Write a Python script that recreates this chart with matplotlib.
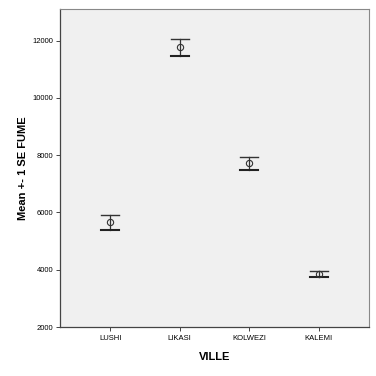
import matplotlib
matplotlib.use("Agg")
import matplotlib.pyplot as plt
import numpy as np

plt.rcParams['font.family'] = ['Liberation Sans', 'DejaVu Sans']

villes = ["LUSHI", "LIKASI", "KOLWEZI", "KALEMI"]
means = [5650, 11765, 7710, 3850]
upper = [5905, 12055, 7950, 3940]
lower = [5395, 11475, 7465, 3745]

fig = plt.figure(figsize=(3.76, 3.76), dpi=100)
ax = fig.add_axes([60/376, 1 - 327/376, 309/376, 318/376])
ax.set_facecolor('#f0f0f0')

x = np.arange(1, len(villes) + 1)
capw = 0.13
for xi, m, up, lo in zip(x, means, upper, lower):
    ax.plot([xi, xi], [lo, up], color='#333333', lw=0.9)
    ax.plot([xi - capw, xi + capw], [up, up], color='#333333', lw=1.0)
    ax.plot([xi - capw, xi + capw], [lo, lo], color='#222222', lw=1.5)
ax.plot(x, means, 'o', mfc='none', mec='#333333', ms=4.5, mew=0.8, ls='none')

ax.set_xlim(0.28, 4.72)
ax.set_ylim(2000, 13100)
ax.set_yticks([2000, 4000, 6000, 8000, 10000, 12000])
ax.set_xticks(x)
ax.set_xticklabels(villes)
ax.tick_params(labelsize=5.5, length=3, width=0.7, color='#444444', pad=2)
ax.tick_params(axis='x', pad=3)

for s in ['top', 'right']:
    ax.spines[s].set_color('#888888')
    ax.spines[s].set_linewidth(0.8)
for s in ['left', 'bottom']:
    ax.spines[s].set_color('#444444')
    ax.spines[s].set_linewidth(0.9)

ax.set_ylabel("Mean +- 1 SE FUME", fontsize=8, fontweight='bold', labelpad=3)
ax.set_xlabel("VILLE", fontsize=8, fontweight='bold', labelpad=7)

fig.savefig("out.png", dpi=100)
